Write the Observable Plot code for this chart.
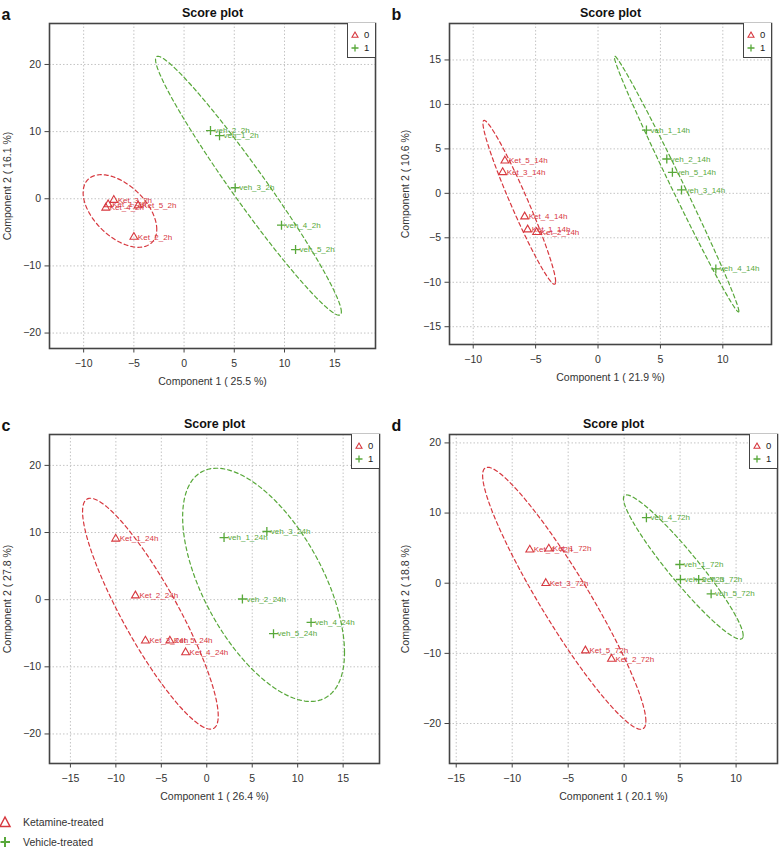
<!DOCTYPE html>
<html><head><meta charset="utf-8">
<script src="https://cdn.jsdelivr.net/npm/d3@7"></script>
<script src="https://cdn.jsdelivr.net/npm/@observablehq/plot@0.6"></script>
<style>
body{margin:0;background:#fff;font-family:"Liberation Sans",Arial,Helvetica,sans-serif;}
#root{position:relative;width:779px;height:852px;overflow:hidden;background:#fff;}
.panel{position:absolute;}
.panel svg{overflow:visible;}
.leg{position:absolute;box-sizing:border-box;border-left:1.5px solid #444;border-bottom:1.5px solid #444;background:#fff;}
</style></head><body><div id="root"></div>
<script>
// ---------- data ----------
const RED = "#d7383f", GREEN = "#58a83a";
const letters = ["a", "b", "c", "d"];
const times = ["2h", "14h", "24h", "72h"];
const comp1Pct = ["25.5", "21.9", "26.4", "20.1"];
const comp2Pct = ["16.1", "10.6", "27.8", "18.8"];
const ketIds = ["Ket_1", "Ket_2", "Ket_3", "Ket_4", "Ket_5"];
const vehIds = ["veh_1", "veh_2", "veh_3", "veh_4", "veh_5"];

// panel a (2h)
const ketA_x = [-7.56, -5.0, -7.0, -7.8, -4.57];
const ketA_y = [-0.85, -5.7, -0.2, -1.35, -1.0];
const vehA_x = [3.53, 2.63, 5.09, 9.7, 11.1];
const vehA_y = [9.4, 10.15, 1.64, -3.94, -7.57];
// panel b (14h)
const ketB_x = [-5.64, -4.92, -7.64, -5.88, -7.46];
const ketB_y = [-4.08, -4.38, 2.36, -2.62, 3.67];
const vehB_x = [3.88, 5.51, 6.69, 9.44, 5.96];
const vehB_y = [7.12, 3.86, 0.38, -8.5, 2.36];
// panel c (24h)
const ketC_x = [-10.02, -7.85, -6.75, -2.33, -4.06];
const ketC_y = [9.06, 0.6, -6.12, -7.86, -6.12];
const vehC_x = [1.9, 3.92, 6.61, 11.47, 7.34];
const vehC_y = [9.25, 0.1, 10.15, -3.39, -5.07];
// panel d (72h)
const ketD_x = [-6.73, -1.13, -7.0, -8.43, -3.46];
const ketD_y = [4.91, -10.8, 0.0, 4.77, -9.61];
const vehD_x = [4.97, 5.03, 6.66, 1.99, 7.77];
const vehD_y = [2.67, 0.53, 0.53, 9.34, -1.52];

// tick labels
const xTicksA = [-10, -5, 0, 5, 10, 15], yTicksA = [-20, -10, 0, 10, 20];
const xTicksB = [-10, -5, 0, 5, 10], yTicksB = [-15, -10, -5, 0, 5, 10, 15];
const xTicksC = [-15, -10, -5, 0, 5, 10, 15], yTicksC = [-20, -10, 0, 10, 20];
const xTicksD = [-15, -10, -5, 0, 5, 10], yTicksD = [-20, -10, 0, 10, 20];

const legendLabels = ["0", "1"];
const groupLabels = ["Ketamine-treated", "Vehicle-treated"];

// ---------- layout ----------
const panels = [
  {left: 0, top: 0, width: 390, height: 400, m: [23, 15, 52, 49], xd: [-13.4, 19.06], yd: [-22.3, 26.1], xt: xTicksA, yt: yTicksA, kx: ketA_x, ky: ketA_y, vx: vehA_x, vy: vehA_y, ylo: 42},
  {left: 390, top: 0, width: 389, height: 400, m: [23, 8, 56, 59], xd: [-11.9, 13.9], yd: [-17.0, 19.1], xt: xTicksB, yt: yTicksB, kx: ketB_x, ky: ketB_y, vx: vehB_x, vy: vehB_y, ylo: 44},
  {left: 0, top: 410, width: 390, height: 400, m: [24, 11, 47, 49], xd: [-17.3, 19.0], yd: [-24.4, 24.6], xt: xTicksC, yt: yTicksC, kx: ketC_x, ky: ketC_y, vx: vehC_x, vy: vehC_y, ylo: 42},
  {left: 390, top: 410, width: 389, height: 400, m: [24, 2, 47, 59], xd: [-15.6, 13.7], yd: [-25.7, 21.2], xt: xTicksD, yt: yTicksD, kx: ketD_x, ky: ketD_y, vx: vehD_x, vy: vehD_y, ylo: 44}
];

// 95% confidence ellipse from the sample covariance of the points
function ellipse(xs, ys) {
  const n = xs.length;
  const mx = d3.mean(xs), my = d3.mean(ys);
  let sxx = 0, syy = 0, sxy = 0;
  for (let i = 0; i < n; i++) {
    sxx += (xs[i] - mx) ** 2; syy += (ys[i] - my) ** 2; sxy += (xs[i] - mx) * (ys[i] - my);
  }
  sxx /= n - 1; syy /= n - 1; sxy /= n - 1;
  const r = Math.sqrt(-2 * Math.log(0.05));
  const a = Math.sqrt(sxx), b = sxy / a, c = Math.sqrt(Math.max(syy - b * b, 0));
  return d3.range(0, 201).map(i => {
    const t = (i / 200) * 2 * Math.PI, u = Math.cos(t), v = Math.sin(t);
    return {x: mx + r * a * u, y: my + r * (b * u + c * v)};
  });
}

const root = document.getElementById("root");
const F = {fontFamily: "Liberation Sans, Arial, Helvetica, sans-serif"};

panels.forEach((p, k) => {
  const ket = ketIds.map((id, i) => ({x: p.kx[i], y: p.ky[i], name: `${id}_${times[k]}`}));
  const veh = vehIds.map((id, i) => ({x: p.vx[i], y: p.vy[i], name: `${id}_${times[k]}`}));
  const [mt, mr, mb, ml] = p.m;
  const chart = Plot.plot({
    width: p.width, height: p.height,
    marginTop: mt, marginRight: mr, marginBottom: mb, marginLeft: ml,
    style: {fontFamily: F.fontFamily, color: "#333", background: "transparent"},
    x: {domain: p.xd, ticks: p.xt},
    y: {domain: p.yd, ticks: p.yt},
    marks: [
      Plot.gridX(p.xt, {stroke: "#c4c4c4", strokeOpacity: 1, strokeDasharray: "1.5,2"}),
      Plot.gridY(p.yt, {stroke: "#c4c4c4", strokeOpacity: 1, strokeDasharray: "1.5,2"}),
      Plot.axisX(p.xt, {tickSize: 4.5, tickPadding: 7, fontSize: 10.5, label: null, stroke: "#444"}),
      Plot.axisY(p.yt, {tickSize: 4.5, tickPadding: 4, fontSize: 10.5, label: null, stroke: "#444"}),
      Plot.line(ellipse(p.kx, p.ky), {x: "x", y: "y", stroke: RED, strokeWidth: 1.2, strokeDasharray: "4,3"}),
      Plot.line(ellipse(p.vx, p.vy), {x: "x", y: "y", stroke: GREEN, strokeWidth: 1.2, strokeDasharray: "4,3"}),
      Plot.dot(ket, {x: "x", y: "y", symbol: "triangle", r: 2.9, stroke: RED, strokeWidth: 1.1, fill: "none"}),
      Plot.dot(veh, {x: "x", y: "y", symbol: "plus", r: 3, stroke: GREEN, strokeWidth: 1.3}),
      Plot.text(ket, {x: "x", y: "y", text: "name", dx: 4, textAnchor: "start", fill: RED, fontSize: 8}),
      Plot.text(veh, {x: "x", y: "y", text: "name", dx: 4, textAnchor: "start", fill: GREEN, fontSize: 8}),
      Plot.frame({stroke: "#444", strokeWidth: 1.6}),
      Plot.text(["Score plot"], {frameAnchor: "top", dy: -15, fontWeight: "bold", fontSize: 12.5, fill: "#111"}),
      Plot.text([letters[k]], {frameAnchor: "top-left", dx: -ml + 1, dy: -15, textAnchor: "start", fontWeight: "bold", fontSize: 16, fill: "#111"}),
      Plot.text([`Component 1 ( ${comp1Pct[k]} %)`], {frameAnchor: "bottom", dy: 36, fontSize: 10.5, fill: "#333"}),
      Plot.text([`Component 2 ( ${comp2Pct[k]} %)`], {frameAnchor: "left", dx: -p.ylo, rotate: -90, textAnchor: "middle", fontSize: 10.5, fill: "#333"})
    ]
  });
  const div = document.createElement("div");
  div.className = "panel";
  div.style.left = p.left + "px"; div.style.top = p.top + "px";
  div.appendChild(chart);
  // legend box
  const lw = 28, lh = 35;
  const leg = document.createElement("div");
  leg.className = "leg";
  leg.style.left = (p.width - mr - lw) + "px";
  leg.style.top = mt + "px";
  leg.style.width = lw + "px"; leg.style.height = lh + "px";
  leg.innerHTML = `<svg width="${lw}" height="${lh}" style="position:absolute;left:-1.5px;top:0;overflow:visible">
    <path d="M8,9 L11,14.2 L5,14.2 Z" fill="none" stroke="${RED}" stroke-width="1.1"/>
    <text x="17" y="12" dy="0.35em" font-size="9.5" fill="#222" font-family="Liberation Sans, Arial, sans-serif">${legendLabels[0]}</text>
    <path d="M4.5,25 L11.5,25 M8,21.5 L8,28.5" stroke="${GREEN}" stroke-width="1.3"/>
    <text x="17" y="25" dy="0.35em" font-size="9.5" fill="#222" font-family="Liberation Sans, Arial, sans-serif">${legendLabels[1]}</text>
  </svg>`;
  div.appendChild(leg);
  root.appendChild(div);
});

// bottom group legend
const bl = document.createElement("div");
bl.style.position = "absolute"; bl.style.left = "0px"; bl.style.top = "810px";
bl.innerHTML = `<svg width="200" height="42" style="overflow:visible">
  <path d="M5,7 L10,16.5 L0,16.5 Z" fill="none" stroke="${RED}" stroke-width="1.5"/>
  <text x="23" y="12" dy="0.35em" font-size="10.5" fill="#333" font-family="Liberation Sans, Arial, sans-serif">${groupLabels[0]}</text>
  <path d="M0.5,32 L10,32 M5,27 L5,37" stroke="${GREEN}" stroke-width="2"/>
  <text x="23" y="32" dy="0.35em" font-size="10.5" fill="#333" font-family="Liberation Sans, Arial, sans-serif">${groupLabels[1]}</text>
</svg>`;
root.appendChild(bl);
</script></body></html>
